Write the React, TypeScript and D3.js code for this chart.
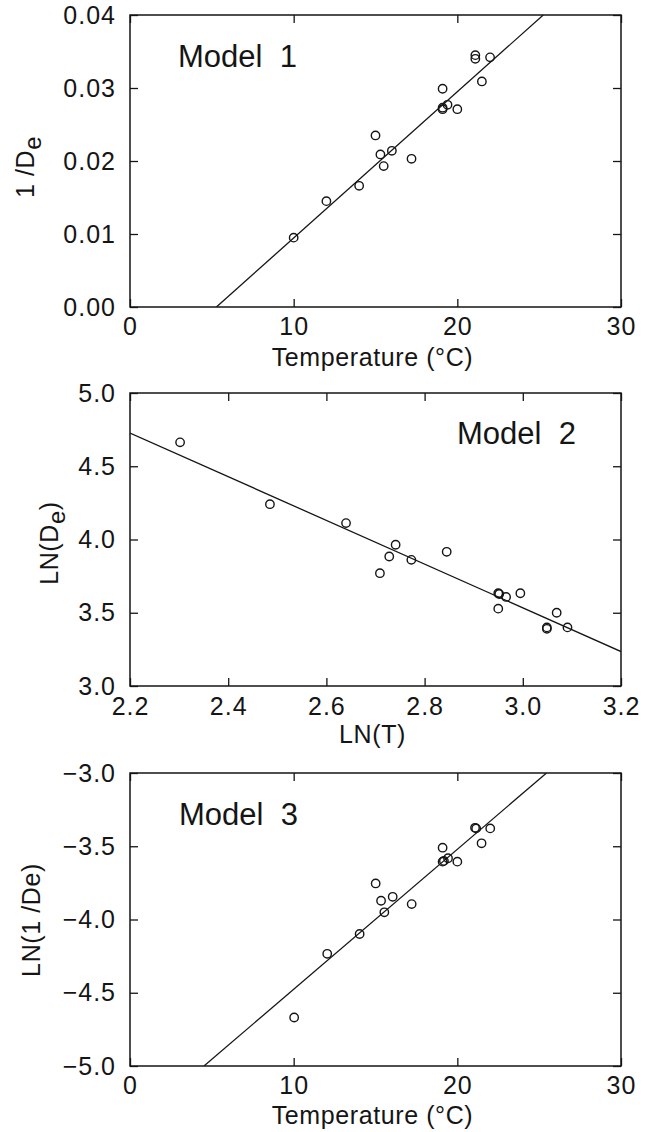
import React, { useEffect, useRef } from 'react';
import * as d3 from 'd3';

// Model 1: temperature vs 1/De
const temp1 = [10.0, 12.0, 14.0, 15.0, 15.3, 15.5, 16.0, 17.2, 19.1, 19.1, 19.1, 19.4, 20.0, 21.1, 21.1, 21.5, 22.0];
const invDe1 = [0.0095, 0.0145, 0.0166, 0.0235, 0.0209, 0.0193, 0.0214, 0.0203, 0.0299, 0.0271, 0.0273, 0.0277, 0.0271, 0.0345, 0.0340, 0.0309, 0.0342];
const fit1X = [5.28, 25.25];
const fit1Y = [0.0, 0.04];

// Model 2: LN(T) vs LN(De)
const lnT2 = [2.302, 2.485, 2.640, 2.709, 2.728, 2.741, 2.773, 2.845, 2.950, 2.952, 2.950, 2.966, 2.995, 3.049, 3.049, 3.069, 3.091];
const lnDe2 = [4.663, 4.241, 4.112, 3.770, 3.884, 3.964, 3.861, 3.916, 3.633, 3.628, 3.528, 3.608, 3.633, 3.390, 3.400, 3.500, 3.400];
const fit2X = [2.2, 3.2];
const fit2Y = [4.727, 3.235];

// Model 3: temperature vs LN(1/De)
const temp3 = [10.03, 12.05, 14.03, 15.01, 15.34, 15.54, 16.05, 17.21, 19.1, 19.1, 19.18, 19.43, 20.0, 21.08, 21.15, 21.48, 22.01];
const lnInvDe3 = [-4.669, -4.234, -4.099, -3.754, -3.872, -3.951, -3.845, -3.895, -3.510, -3.605, -3.600, -3.582, -3.605, -3.374, -3.378, -3.480, -3.378];
const fit3X = [4.52, 25.45];
const fit3Y = [-5.0, -3.0];

const tempTicks = [0, 10, 20, 30];
const invDeTicks = [0.0, 0.01, 0.02, 0.03, 0.04];
const lnTTicks = [2.2, 2.4, 2.6, 2.8, 3.0, 3.2];
const lnDeTicks = [3.0, 3.5, 4.0, 4.5, 5.0];
const lnInvDeTicks = [-5.0, -4.5, -4.0, -3.5, -3.0];

const FONT = "'Liberation Sans', Arial, sans-serif";
const INK = '#151515';
const W = 647;
const H = 1132;
const left = 130;
const right = 621;
const tick = 8;

function drawPanel(svg, p) {
  var x = d3.scaleLinear().domain(p.xDomain).range([left, right]);
  var y = d3.scaleLinear().domain(p.yDomain).range([p.bottom, p.top]);

  svg.append('clipPath').attr('id', 'clip' + p.id)
    .append('rect')
    .attr('x', left).attr('y', p.top)
    .attr('width', right - left).attr('height', p.bottom - p.top);

  var g = svg.append('g');

  var styleAxis = function (a) {
    a.select('.domain').remove();
    a.selectAll('line').attr('stroke', INK).attr('stroke-width', 1.3);
    a.selectAll('text')
      .attr('font-family', FONT)
      .attr('font-size', 25)
      .attr('letter-spacing', 1)
      .attr('fill', INK);
  };

  g.append('g')
    .attr('transform', 'translate(0,' + p.bottom + ')')
    .call(d3.axisBottom(x).tickValues(p.xTicks).tickSizeInner(-tick).tickSizeOuter(0).tickPadding(p.xPad).tickFormat(p.xFormat))
    .call(styleAxis);
  g.append('g')
    .attr('transform', 'translate(0,' + p.top + ')')
    .call(d3.axisTop(x).tickValues(p.xTicks).tickSizeInner(-tick).tickSizeOuter(0).tickFormat(() => ''))
    .call(styleAxis);
  g.append('g')
    .attr('transform', 'translate(' + left + ',0)')
    .call(d3.axisLeft(y).tickValues(p.yTicks).tickSizeInner(-tick).tickSizeOuter(0).tickPadding(14).tickFormat(p.yFormat))
    .call(styleAxis);
  g.append('g')
    .attr('transform', 'translate(' + right + ',0)')
    .call(d3.axisRight(y).tickValues(p.yTicks).tickSizeInner(-tick).tickSizeOuter(0).tickFormat(() => ''))
    .call(styleAxis);

  // frame
  g.append('rect')
    .attr('x', left).attr('y', p.top)
    .attr('width', right - left).attr('height', p.bottom - p.top)
    .attr('fill', 'none')
    .attr('stroke', INK)
    .attr('stroke-width', 1.5);

  // fitted line
  var line = d3.line().x(d => x(d[0])).y(d => y(d[1]));
  g.append('path')
    .datum(d3.zip(p.fitX, p.fitY))
    .attr('d', line)
    .attr('clip-path', 'url(#clip' + p.id + ')')
    .attr('fill', 'none')
    .attr('stroke', INK)
    .attr('stroke-width', 1.3);

  // observations
  g.selectAll('circle.pt')
    .data(d3.zip(p.xs, p.ys))
    .enter()
    .append('circle')
    .attr('class', 'pt')
    .attr('cx', d => x(d[0]))
    .attr('cy', d => y(d[1]))
    .attr('r', 4.2)
    .attr('fill', 'none')
    .attr('stroke', INK)
    .attr('stroke-width', 1.4);

  // model label
  g.append('text')
    .attr('x', p.labelX)
    .attr('y', p.labelY)
    .attr('font-family', FONT)
    .attr('font-size', 31)
    .attr('fill', INK)
    .style('white-space', 'pre')
    .text(p.label);

  // x title
  g.append('text')
    .attr('x', (left + right) / 2 - 3)
    .attr('y', p.bottom + p.xTitleOffset)
    .attr('text-anchor', 'middle')
    .attr('font-family', FONT)
    .attr('font-size', 25)
    .attr('letter-spacing', 0.6)
    .attr('fill', INK)
    .text(p.xTitle);

  // y title (rotated, with optional subscript)
  var yt = g.append('text')
    .attr('transform', 'translate(' + p.yTitleX + ',' + p.yTitleY + ') rotate(-90)')
    .attr('text-anchor', 'middle')
    .attr('font-family', FONT)
    .attr('font-size', 25)
    .attr('letter-spacing', 0.6)
    .attr('fill', INK)
    .style('white-space', 'pre');
  p.yTitle.forEach(function (part) {
    var ts = yt.append('tspan').text(part.t);
    if (part.sub) ts.attr('dy', 7).attr('font-size', 24);
    if (part.back) ts.attr('dy', -7);
  });
}

export default function App() {
  const ref = useRef(null);

  useEffect(() => {
    var svg = d3.select(ref.current);
    svg.selectAll('*').remove();

    drawPanel(svg, {
      id: 1, top: 15, bottom: 307,
      xDomain: [0, 30], yDomain: [0, 0.04],
      xTicks: tempTicks, yTicks: invDeTicks,
      xFormat: d3.format('d'), yFormat: d3.format('.2f'), xPad: 10,
      xs: temp1, ys: invDe1, fitX: fit1X, fitY: fit1Y,
      label: 'Model  1', labelX: 178, labelY: 67,
      xTitle: 'Temperature (°C)', xTitleOffset: 59,
      yTitle: [{ t: '1 /D' }, { t: 'e', sub: true }],
      yTitleX: 34, yTitleY: 167
    });

    drawPanel(svg, {
      id: 2, top: 393, bottom: 686,
      xDomain: [2.2, 3.2], yDomain: [3.0, 5.0],
      xTicks: lnTTicks, yTicks: lnDeTicks,
      xFormat: d3.format('.1f'), yFormat: d3.format('.1f'), xPad: 11,
      xs: lnT2, ys: lnDe2, fitX: fit2X, fitY: fit2Y,
      label: 'Model  2', labelX: 457, labelY: 444,
      xTitle: 'LN(T)', xTitleOffset: 57,
      yTitle: [{ t: 'LN(D' }, { t: 'e', sub: true }, { t: ')', back: true }],
      yTitleX: 58, yTitleY: 543
    });

    drawPanel(svg, {
      id: 3, top: 773, bottom: 1066,
      xDomain: [0, 30], yDomain: [-5.0, -3.0],
      xTicks: tempTicks, yTicks: lnInvDeTicks,
      xFormat: d3.format('d'), yFormat: d3.format('.1f'), xPad: 10,
      xs: temp3, ys: lnInvDe3, fitX: fit3X, fitY: fit3Y,
      label: 'Model  3', labelX: 179, labelY: 825,
      xTitle: 'Temperature (°C)', xTitleOffset: 58,
      yTitle: [{ t: 'LN(1 /De)' }],
      yTitleX: 40, yTitleY: 920
    });
  }, []);

  return (
    <svg
      ref={ref}
      width={W}
      height={H}
      style={{ position: 'absolute', left: 0, top: 0, background: '#fff' }}
    />
  );
}
